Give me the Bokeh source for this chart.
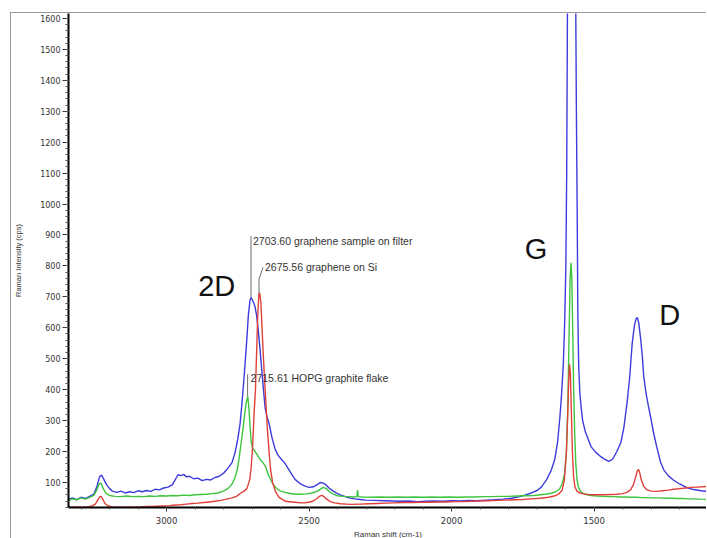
from bokeh.plotting import figure
from bokeh.models import Range1d, SingleIntervalTicker, Label
from bokeh.embed import file_html
from bokeh.resources import INLINE

# ---------------- data ----------------
blue_x = [3344, 3330, 3315, 3300, 3285, 3270, 3255, 3245, 3235, 3228, 3220, 3210, 3200, 3190, 3175,
          3160, 3145, 3130, 3115, 3100, 3085, 3070, 3055, 3040, 3025, 3010, 2995, 2980, 2970, 2960,
          2950, 2940, 2930, 2920, 2905, 2890, 2875, 2860, 2845, 2830, 2815, 2800, 2790, 2780, 2770,
          2760, 2750, 2742, 2735, 2728, 2720, 2713, 2707, 2703, 2698, 2694, 2690, 2684, 2678, 2672,
          2666, 2660, 2654, 2647, 2640, 2630, 2620, 2610, 2600, 2590, 2580, 2570, 2560, 2549, 2530,
          2514, 2500, 2485, 2470, 2460, 2450, 2440, 2430, 2420, 2405, 2390, 2375, 2360, 2340, 2320,
          2300, 2270, 2240, 2210, 2180, 2150, 2120, 2090, 2060, 2030, 2000, 1970, 1940, 1910, 1880,
          1850, 1820, 1790, 1760, 1740, 1720, 1700, 1685, 1666, 1650, 1638, 1628, 1620, 1615, 1608,
          1603, 1599, 1596, 1594, 1592, 1588, 1580, 1572, 1566, 1562, 1559, 1557, 1554, 1550, 1545,
          1540, 1530, 1520, 1510, 1495, 1480, 1465, 1448, 1435, 1420, 1406, 1395, 1383, 1375, 1366,
          1358, 1352, 1348, 1343, 1336, 1330, 1326, 1318, 1310, 1302, 1290, 1280, 1267, 1255, 1240,
          1222, 1200, 1174, 1150, 1125, 1102]
blue_y = [45, 50, 44, 52, 48, 55, 62, 85, 118, 124, 110, 92, 80, 72, 68,
          72, 66, 70, 67, 73, 70, 74, 71, 78, 76, 82, 85, 92, 108, 125,
          122, 126, 118, 120, 112, 114, 106, 110, 108, 116, 120, 130, 140, 152, 165,
          195, 240, 290, 360, 440, 540, 640, 690, 698, 688, 680, 670, 640, 590, 530,
          465, 400, 340, 310, 290, 245, 210, 190, 178, 168, 155, 140, 125, 110, 95,
          88, 84, 86, 94, 100, 98, 92, 82, 75, 66, 60, 55, 50, 47, 45,
          43, 42, 41, 40, 39, 40, 38, 39, 40, 39, 41, 40, 42, 41, 43,
          44, 46, 49, 54, 60, 66, 74, 85, 110, 140, 174, 230, 310, 370, 480,
          620, 800, 1100, 1500, 1900, 3000, 4000, 3000, 1900, 1300, 950, 650, 480, 390, 340,
          300, 262, 238, 215, 198, 186, 176, 168, 175, 200, 229, 280, 368, 440, 552,
          610, 630, 633, 615, 560, 500, 445, 390, 350, 313, 255, 215, 166, 140, 122,
          108, 95, 83, 77, 73, 71]

green_x = [3344, 3330, 3315, 3300, 3285, 3270, 3255, 3245, 3237, 3230, 3222, 3212, 3200, 3180, 3160,
           3140, 3120, 3100, 3080, 3060, 3040, 3020, 3000, 2980, 2960, 2940, 2920, 2900, 2880, 2860,
           2840, 2820, 2800, 2785, 2770, 2760, 2752, 2745, 2738, 2732, 2726, 2720, 2715, 2711, 2707,
           2703, 2698, 2693, 2688, 2682, 2676, 2668, 2660, 2652, 2645, 2638, 2630, 2620, 2610, 2600,
           2585, 2570, 2550, 2530, 2510, 2490, 2470, 2458, 2450, 2440, 2428, 2415, 2400, 2380, 2360,
           2340, 2332, 2330, 2327, 2310, 2280, 2250, 2220, 2190, 2160, 2130, 2100, 2070, 2040, 2010,
           1980, 1950, 1920, 1890, 1860, 1830, 1800, 1770, 1740, 1710, 1690, 1670, 1650, 1635, 1622,
           1612, 1603, 1597, 1592, 1588, 1584, 1581, 1578, 1575, 1572, 1568, 1564, 1560, 1555, 1548,
           1540, 1525, 1510, 1490, 1470, 1450, 1430, 1410, 1390, 1370, 1350, 1330, 1310, 1290, 1270,
           1250, 1230, 1210, 1190, 1170, 1150, 1130, 1102]
green_y = [42, 47, 44, 50, 46, 52, 58, 75, 95, 98, 80, 64, 58, 55, 54,
           56, 54, 55, 54, 56, 55, 57, 56, 58, 57, 59, 58, 60, 61, 62,
           64, 66, 72, 80, 95, 115, 140, 180, 230, 270, 320, 360, 378, 340, 280,
           230, 212, 205, 198, 190, 180, 170, 162, 150, 130, 115, 100, 86, 78, 72,
           68, 65, 62, 62, 63, 66, 72, 80, 84, 80, 70, 62, 57, 55, 54,
           53, 54, 75, 54, 53, 52, 53, 52, 53, 52, 53, 52, 53, 52, 53,
           52, 53, 53, 54, 54, 55, 55, 56, 57, 58, 60, 62, 65, 70, 78,
           95, 130, 200, 350, 560, 760, 810, 760, 600, 420, 260, 160, 110, 85, 72,
           65, 60, 58, 56, 55, 54, 54, 53, 53, 52, 52, 51, 51, 50, 50,
           49, 49, 48, 48, 47, 47, 46, 45]

red_x = [3344, 3320, 3300, 3280, 3260, 3250, 3242, 3235, 3230, 3224, 3216, 3205, 3190, 3170, 3150,
         3130, 3110, 3090, 3070, 3050, 3030, 3010, 2990, 2970, 2950, 2930, 2910, 2890, 2870, 2850,
         2830, 2810, 2790, 2770, 2755, 2740, 2728, 2718, 2708, 2703, 2698, 2693, 2688, 2684, 2680,
         2676, 2673, 2669, 2665, 2661, 2656, 2651, 2646, 2640, 2635, 2628, 2618, 2605, 2583, 2560,
         2540, 2520, 2500, 2485, 2472, 2462, 2455, 2447, 2437, 2425, 2410, 2390, 2370, 2350, 2320,
         2290, 2260, 2230, 2200, 2170, 2140, 2110, 2080, 2050, 2020, 1990, 1960, 1930, 1900, 1870,
         1840, 1810, 1780, 1750, 1720, 1690, 1660, 1640, 1625, 1612, 1604, 1597, 1592, 1589, 1586,
         1583, 1580, 1576, 1572, 1567, 1560, 1550, 1535, 1520, 1500, 1480, 1460, 1440, 1420, 1400,
         1385, 1372, 1362, 1354, 1348, 1344, 1340, 1334, 1326, 1316, 1300, 1280, 1260, 1240, 1220,
         1200, 1180, 1160, 1140, 1120, 1102]
red_y = [20, 21, 20, 21, 24, 30, 42, 53, 55, 46, 32, 24, 21, 20, 20,
         21, 20, 21, 22, 22, 23, 24, 25, 27, 28, 30, 32, 33, 35, 37,
         39, 42, 46, 50, 55, 65, 72, 80, 110, 150, 216, 320, 400, 520, 640,
         710, 712, 680, 600, 520, 432, 350, 271, 195, 142, 100, 71, 52, 39, 37,
         35, 34, 36, 40, 48, 56, 58, 54, 45, 38, 34, 31, 30, 29, 30,
         31, 32, 33, 34, 35, 35, 36, 36, 37, 37, 38, 38, 39, 40, 41,
         42, 43, 44, 45, 47, 49, 52, 56, 62, 75, 110, 200, 330, 430, 482,
         450, 340, 200, 120, 85, 72, 66, 63, 61, 60, 60, 60, 61, 62, 64,
         68, 76, 92, 118, 138, 142, 132, 108, 88, 77, 72, 71, 73, 75, 78,
         80, 82, 84, 85, 86, 87]

# peak annotations: position, peak height, label text
ann_pos = [2703.60, 2675.56, 2715.61]
ann_peak = [698, 712, 378]
ann_text = ["2703.60 graphene sample on filter", "2675.56 graphene on Si", "2715.61 HOPG graphite flake"]
ann_label_y = [880, 795, 437]

band_names = ["2D", "G", "D"]
band_x = [2889, 1743, 1271]
band_y = [735, 855, 642]

# ---------------- figure ----------------
p = figure(width=696, height=528, x_range=Range1d(3344, 1102), y_range=Range1d(19, 1616),
           output_backend="svg", toolbar_location=None,
           min_border_left=50, min_border_right=0, min_border_top=0, min_border_bottom=30)
p.margin = (12, 0, 0, 10)
p.styles = {"border-left": "1px solid #9a9a9a", "border-top": "1px solid #9a9a9a"}
p.outline_line_color = None
p.xgrid.visible = False
p.ygrid.visible = False
p.background_fill_color = "white"
p.border_fill_color = "white"

p.line(blue_x, blue_y, line_color="#3c3cdc", line_width=1.4)
p.line(green_x, green_y, line_color="#3ec43e", line_width=1.4)
p.line(red_x, red_y, line_color="#e0403a", line_width=1.4)

# annotation leaders
p.segment(x0=ann_pos[0], y0=ann_peak[0], x1=ann_pos[0], y1=ann_label_y[0] + 17,
          line_color="#6e6e6e", line_width=1)
p.line([ann_pos[1], ann_pos[1], ann_pos[1] - 14], [ann_peak[1], ann_peak[1] + 45, ann_label_y[1]],
       line_color="#6e6e6e", line_width=1)
p.segment(x0=ann_pos[2], y0=ann_peak[2], x1=ann_pos[2], y1=ann_label_y[2] + 12,
          line_color="#6e6e6e", line_width=1)

offsets = [2, 6, 3]
for xp, yl, t, off in zip(ann_pos, ann_label_y, ann_text, offsets):
    p.add_layout(Label(x=xp, y=yl, text=t, x_offset=off, text_baseline="middle", text_align="left",
                       text_font="Liberation Sans", text_font_size="10.5px", text_color="#333333"))

for name, bx, by in zip(band_names, band_x, band_y):
    p.add_layout(Label(x=bx, y=by, text=name, text_baseline="alphabetic", text_align="left",
                       text_font="Liberation Sans", text_font_size="29px", text_color="#111111"))

# axes
p.yaxis.ticker = SingleIntervalTicker(interval=100, num_minor_ticks=5)
p.xaxis.ticker = SingleIntervalTicker(interval=500, num_minor_ticks=5)
for ax in (p.xaxis[0], p.yaxis[0]):
    ax.axis_line_color = "black"
    ax.axis_line_width = 2
    ax.major_tick_line_color = "#333333"
    ax.minor_tick_line_color = "#555555"
    ax.major_tick_in = 0
    ax.minor_tick_in = 0
    ax.major_label_text_font = "DejaVu Sans"
    ax.major_label_text_color = "#333333"
    ax.axis_label_text_font = "Liberation Sans"
    ax.axis_label_text_font_style = "normal"
    ax.axis_label_text_color = "#333333"

p.yaxis.major_tick_out = 6
p.yaxis.minor_tick_out = 3
p.yaxis.major_label_standoff = 2
p.yaxis.major_label_text_font_size = "8px"
p.yaxis.axis_label = "Raman Intensity (cps)"
p.yaxis.axis_label_text_font_size = "7.5px"
p.yaxis.axis_label_standoff = 14

p.xaxis.major_tick_out = 4
p.xaxis.minor_tick_out = 2
p.xaxis.major_label_standoff = 5
p.xaxis.major_label_text_font_size = "8.5px"
p.xaxis.axis_label = "Raman shift (cm-1)"
p.xaxis.axis_label_text_font_size = "8px"
p.xaxis.axis_label_standoff = 3

open("out.html", "w").write(file_html(p, INLINE))
